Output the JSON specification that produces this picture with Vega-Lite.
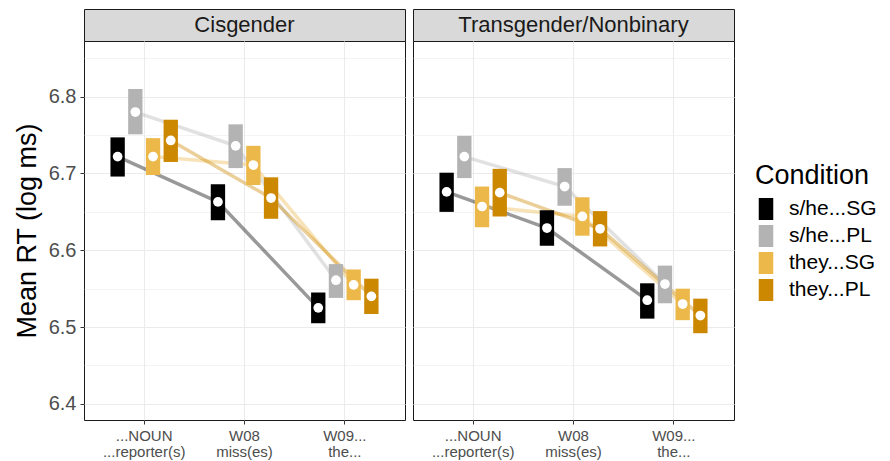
{
  "$schema": "https://vega.github.io/schema/vega-lite/v6.json",
  "padding": {"left": 12, "top": 8, "right": 5, "bottom": 5},
  "background": "white",
  "datasets": {
    "rt": [
      {"group": "Cisgender", "region": "...NOUN\n...reporter(s)", "condition": "s/he...SG", "mean": 6.722, "lo": 6.696, "hi": 6.747},
      {"group": "Cisgender", "region": "...NOUN\n...reporter(s)", "condition": "s/he...PL", "mean": 6.780, "lo": 6.751, "hi": 6.810},
      {"group": "Cisgender", "region": "...NOUN\n...reporter(s)", "condition": "they...SG", "mean": 6.722, "lo": 6.698, "hi": 6.746},
      {"group": "Cisgender", "region": "...NOUN\n...reporter(s)", "condition": "they...PL", "mean": 6.743, "lo": 6.715, "hi": 6.770},
      {"group": "Cisgender", "region": "W08\nmiss(es)", "condition": "s/he...SG", "mean": 6.663, "lo": 6.639, "hi": 6.686},
      {"group": "Cisgender", "region": "W08\nmiss(es)", "condition": "s/he...PL", "mean": 6.736, "lo": 6.707, "hi": 6.764},
      {"group": "Cisgender", "region": "W08\nmiss(es)", "condition": "they...SG", "mean": 6.711, "lo": 6.685, "hi": 6.736},
      {"group": "Cisgender", "region": "W08\nmiss(es)", "condition": "they...PL", "mean": 6.668, "lo": 6.641, "hi": 6.695},
      {"group": "Cisgender", "region": "W09...\nthe...", "condition": "s/he...SG", "mean": 6.525, "lo": 6.505, "hi": 6.545},
      {"group": "Cisgender", "region": "W09...\nthe...", "condition": "s/he...PL", "mean": 6.561, "lo": 6.538, "hi": 6.582},
      {"group": "Cisgender", "region": "W09...\nthe...", "condition": "they...SG", "mean": 6.555, "lo": 6.535, "hi": 6.575},
      {"group": "Cisgender", "region": "W09...\nthe...", "condition": "they...PL", "mean": 6.540, "lo": 6.517, "hi": 6.563},
      {"group": "Transgender/Nonbinary", "region": "...NOUN\n...reporter(s)", "condition": "s/he...SG", "mean": 6.676, "lo": 6.650, "hi": 6.701},
      {"group": "Transgender/Nonbinary", "region": "...NOUN\n...reporter(s)", "condition": "s/he...PL", "mean": 6.722, "lo": 6.694, "hi": 6.749},
      {"group": "Transgender/Nonbinary", "region": "...NOUN\n...reporter(s)", "condition": "they...SG", "mean": 6.657, "lo": 6.630, "hi": 6.683},
      {"group": "Transgender/Nonbinary", "region": "...NOUN\n...reporter(s)", "condition": "they...PL", "mean": 6.675, "lo": 6.644, "hi": 6.706},
      {"group": "Transgender/Nonbinary", "region": "W08\nmiss(es)", "condition": "s/he...SG", "mean": 6.629, "lo": 6.606, "hi": 6.652},
      {"group": "Transgender/Nonbinary", "region": "W08\nmiss(es)", "condition": "s/he...PL", "mean": 6.683, "lo": 6.658, "hi": 6.707},
      {"group": "Transgender/Nonbinary", "region": "W08\nmiss(es)", "condition": "they...SG", "mean": 6.644, "lo": 6.619, "hi": 6.669},
      {"group": "Transgender/Nonbinary", "region": "W08\nmiss(es)", "condition": "they...PL", "mean": 6.628, "lo": 6.605, "hi": 6.651},
      {"group": "Transgender/Nonbinary", "region": "W09...\nthe...", "condition": "s/he...SG", "mean": 6.535, "lo": 6.511, "hi": 6.557},
      {"group": "Transgender/Nonbinary", "region": "W09...\nthe...", "condition": "s/he...PL", "mean": 6.556, "lo": 6.531, "hi": 6.580},
      {"group": "Transgender/Nonbinary", "region": "W09...\nthe...", "condition": "they...SG", "mean": 6.530, "lo": 6.509, "hi": 6.550},
      {"group": "Transgender/Nonbinary", "region": "W09...\nthe...", "condition": "they...PL", "mean": 6.515, "lo": 6.492, "hi": 6.537}
    ]
  },
  "columns": 2,
  "spacing": {"row": 0, "column": 8},
  "bounds": "flush",
  "resolve": {"scale": {"color": "shared"}, "legend": {"color": "shared"}},
  "concat": [
    {
      "width": 321, "height": 32,
      "view": {"fill": "#D9D9D9", "stroke": "#1A1A1A", "strokeWidth": 1},
      "data": {"values": [{"label": "Cisgender"}]},
      "mark": {"type": "text", "font": "Liberation Sans", "fontSize": 22, "color": "#1A1A1A"},
      "encoding": {"text": {"field": "label"}}
    },
    {
      "width": 321, "height": 32,
      "view": {"fill": "#D9D9D9", "stroke": "#1A1A1A", "strokeWidth": 1},
      "data": {"values": [{"label": "Transgender/Nonbinary"}]},
      "mark": {"type": "text", "font": "Liberation Sans", "fontSize": 22, "color": "#1A1A1A"},
      "encoding": {"text": {"field": "label"}}
    },
    {
      "width": 321, "height": 379,
      "data": {"name": "rt"},
      "transform": [{"filter": "datum.group === 'Cisgender'"}],
      "encoding": {
        "x": {
          "field": "region", "type": "nominal",
          "sort": ["...NOUN\n...reporter(s)", "W08\nmiss(es)", "W09...\nthe..."],
          "scale": {"paddingInner": 0, "paddingOuter": 0.1},
          "axis": {"title": null, "grid": true, "bandPosition": 0.5, "labelAngle": 0, "labelExpr": "split(datum.label, '\\n')", "labelFontSize": 15, "labelLineHeight": 16, "labelColor": "#4D4D4D", "labelFont": "Liberation Sans", "labelPadding": 4, "tickSize": 4, "tickColor": "#333333", "domain": false, "gridColor": "#EBEBEB", "gridWidth": 1.1}
        },
        "xOffset": {
          "field": "condition", "type": "nominal",
          "sort": ["s/he...SG", "s/he...PL", "they...SG", "they...PL"],
          "scale": {"paddingInner": 0.19, "paddingOuter": 0.928}
        },
        "color": {
          "field": "condition", "type": "nominal",
          "scale": {"domain": ["s/he...SG", "s/he...PL", "they...SG", "they...PL"], "range": ["#000000", "#B3B3B3", "#ECB84A", "#CC8800"]},
          "legend": {"orient": "none", "legendX": 671, "legendY": 154, "title": "Condition", "titleFont": "Liberation Sans", "titleFontSize": 27, "titleFontWeight": "normal", "titleColor": "#000000", "titlePadding": 8, "labelFont": "Liberation Sans", "labelFontSize": 21, "labelColor": "#000000", "labelOffset": 12, "symbolType": "M-0.66,-1H0.66V1H-0.66Z", "symbolSize": 484, "symbolStrokeWidth": 0, "symbolOpacity": 1, "rowPadding": 5}
        }
      },
      "layer": [
        {
          "mark": {"type": "line", "strokeWidth": 3.5, "opacity": 0.4},
          "encoding": {
            "y": {
              "field": "mean", "type": "quantitative",
              "scale": {"domain": [6.379, 6.8725], "nice": false, "zero": false},
              "axis": {"orient": "left", "title": "Mean RT (log ms)", "values": [6.4, 6.5, 6.6, 6.7, 6.8], "format": ".1f", "titleFont": "Liberation Sans", "titleFontSize": 27, "titleFontWeight": "normal", "titleColor": "#000000", "titlePadding": 7, "labelFont": "Liberation Sans", "labelFontSize": 20, "labelColor": "#4D4D4D", "labelPadding": 4, "tickSize": 4, "tickColor": "#333333", "domain": false, "grid": true, "gridColor": "#EBEBEB", "gridWidth": 1.1}
            }
          }
        },
        {
          "mark": {"type": "bar", "opacity": 1},
          "encoding": {
            "y": {
              "field": "lo", "type": "quantitative",
              "axis": {"orient": "left", "values": [6.45, 6.55, 6.65, 6.75, 6.85], "labels": false, "ticks": false, "domain": false, "title": null, "grid": true, "gridColor": "#EBEBEB", "gridWidth": 0.55}
            },
            "y2": {"field": "hi"}
          }
        },
        {
          "mark": {"type": "point", "filled": true, "size": 95, "opacity": 1, "strokeWidth": 0},
          "encoding": {
            "y": {"field": "mean", "type": "quantitative", "axis": null},
            "fill": {"value": "#FFFFFF"}
          }
        }
      ],
      "resolve": {"axis": {"y": "independent"}}
    },
    {
      "width": 321, "height": 379,
      "data": {"name": "rt"},
      "transform": [{"filter": "datum.group === 'Transgender/Nonbinary'"}],
      "encoding": {
        "x": {
          "field": "region", "type": "nominal",
          "sort": ["...NOUN\n...reporter(s)", "W08\nmiss(es)", "W09...\nthe..."],
          "scale": {"paddingInner": 0, "paddingOuter": 0.1},
          "axis": {"title": null, "grid": true, "bandPosition": 0.5, "labelAngle": 0, "labelExpr": "split(datum.label, '\\n')", "labelFontSize": 15, "labelLineHeight": 16, "labelColor": "#4D4D4D", "labelFont": "Liberation Sans", "labelPadding": 4, "tickSize": 4, "tickColor": "#333333", "domain": false, "gridColor": "#EBEBEB", "gridWidth": 1.1}
        },
        "xOffset": {
          "field": "condition", "type": "nominal",
          "sort": ["s/he...SG", "s/he...PL", "they...SG", "they...PL"],
          "scale": {"paddingInner": 0.19, "paddingOuter": 0.928}
        },
        "color": {
          "field": "condition", "type": "nominal",
          "scale": {"domain": ["s/he...SG", "s/he...PL", "they...SG", "they...PL"], "range": ["#000000", "#B3B3B3", "#ECB84A", "#CC8800"]},
          "legend": {"orient": "none", "legendX": 671, "legendY": 154, "title": "Condition", "titleFont": "Liberation Sans", "titleFontSize": 27, "titleFontWeight": "normal", "titleColor": "#000000", "titlePadding": 8, "labelFont": "Liberation Sans", "labelFontSize": 21, "labelColor": "#000000", "labelOffset": 12, "symbolType": "M-0.66,-1H0.66V1H-0.66Z", "symbolSize": 484, "symbolStrokeWidth": 0, "symbolOpacity": 1, "rowPadding": 5}
        }
      },
      "layer": [
        {
          "mark": {"type": "line", "strokeWidth": 3.5, "opacity": 0.4},
          "encoding": {
            "y": {
              "field": "mean", "type": "quantitative",
              "scale": {"domain": [6.379, 6.8725], "nice": false, "zero": false},
              "axis": {"orient": "left", "title": null, "values": [6.4, 6.5, 6.6, 6.7, 6.8], "labels": false, "ticks": false, "domain": false, "grid": true, "gridColor": "#EBEBEB", "gridWidth": 1.1}
            }
          }
        },
        {
          "mark": {"type": "bar", "opacity": 1},
          "encoding": {
            "y": {
              "field": "lo", "type": "quantitative",
              "axis": {"orient": "left", "values": [6.45, 6.55, 6.65, 6.75, 6.85], "labels": false, "ticks": false, "domain": false, "title": null, "grid": true, "gridColor": "#EBEBEB", "gridWidth": 0.55}
            },
            "y2": {"field": "hi"}
          }
        },
        {
          "mark": {"type": "point", "filled": true, "size": 95, "opacity": 1, "strokeWidth": 0},
          "encoding": {
            "y": {"field": "mean", "type": "quantitative", "axis": null},
            "fill": {"value": "#FFFFFF"}
          }
        }
      ],
      "resolve": {"axis": {"y": "independent"}}
    }
  ],
  "config": {
    "view": {"stroke": "#1A1A1A", "strokeWidth": 1},
    "font": "Liberation Sans"
  }
}
